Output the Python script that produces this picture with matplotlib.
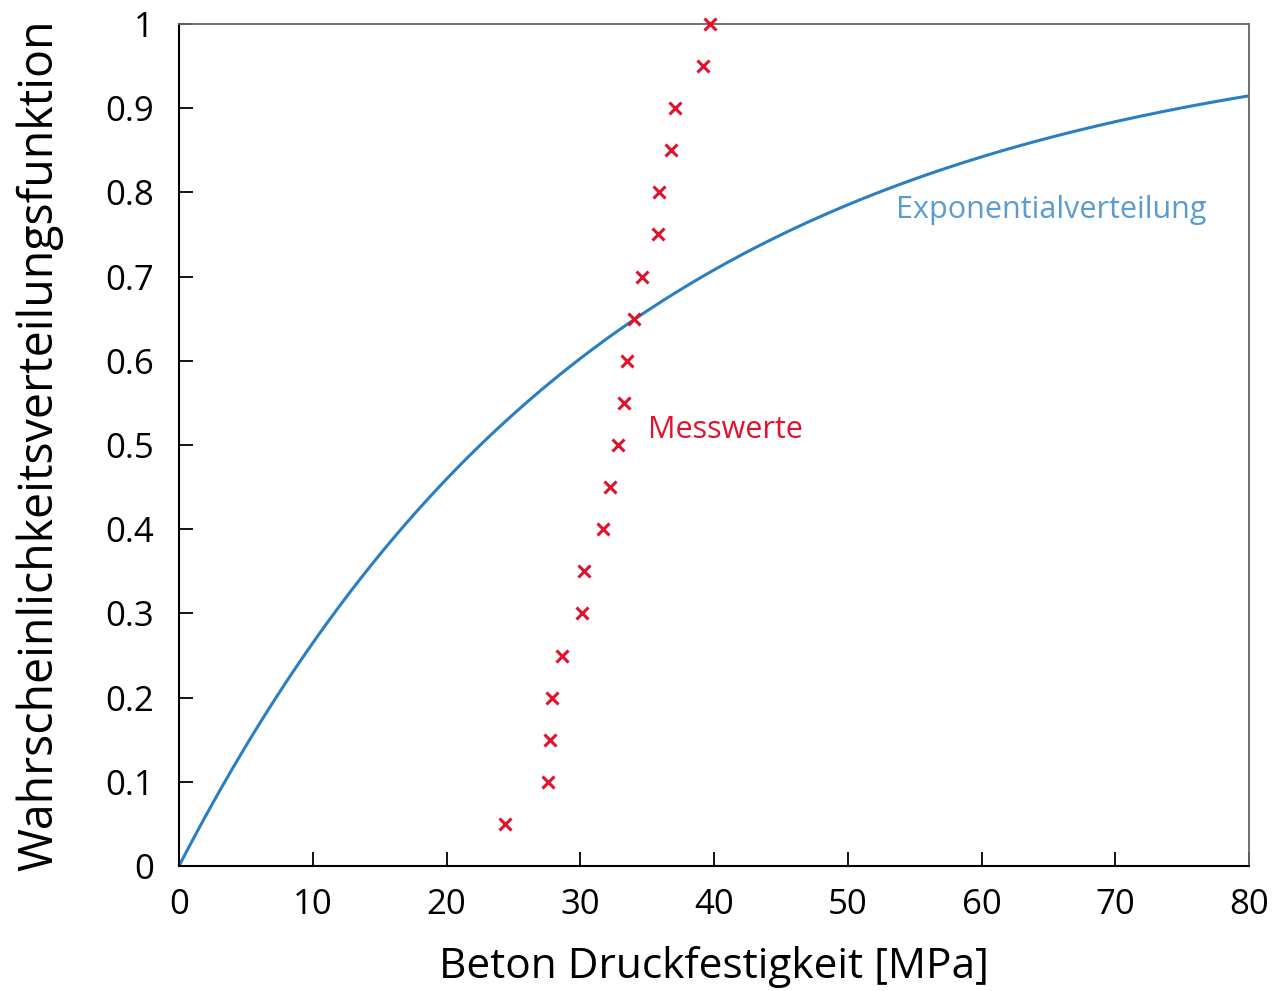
import numpy as np
import matplotlib.pyplot as plt

plt.rcParams['font.family'] = ['Open Sans', 'DejaVu Sans']

# Messwerte (empirische Verteilung)
mess_x = [24.4, 27.6, 27.7, 27.9, 28.6, 30.1, 30.3, 31.7, 32.2, 32.8,
          33.3, 33.5, 34.0, 34.6, 35.8, 35.9, 36.8, 37.1, 39.2, 39.7]
mess_p = [0.05, 0.10, 0.15, 0.20, 0.25, 0.30, 0.35, 0.40, 0.45, 0.50,
          0.55, 0.60, 0.65, 0.70, 0.75, 0.80, 0.85, 0.90, 0.95, 1.00]

# Exponentialverteilung, Mittelwert
mittel = 32.5

xticks = [0, 10, 20, 30, 40, 50, 60, 70, 80]
yticks = [0, 0.1, 0.2, 0.3, 0.4, 0.5, 0.6, 0.7, 0.8, 0.9, 1]
yticklabels = ['0', '0.1', '0.2', '0.3', '0.4', '0.5', '0.6', '0.7', '0.8', '0.9', '1']

fig = plt.figure(figsize=(12.73, 9.91), dpi=100)
ax = fig.add_axes([0.1406, 0.1261, 0.8406, 0.8497])

x = np.linspace(0, 80, 400)
ax.plot(x, 1 - np.exp(-x / mittel), color='#2b7fc1', lw=2.2)
ax.plot(mess_x, mess_p, 'x', color='#e3102e', ms=8, mew=2.2, ls='none',
        clip_on=False, zorder=3)

ax.text(65.2, 0.779, 'Exponentialverteilung', color='#5a9bd3', fontsize=22,
        ha='center', va='center')
ax.text(35.1, 0.518, 'Messwerte', color='#e3102e', fontsize=22,
        ha='left', va='center')

ax.set_xlim(0, 80)
ax.set_ylim(0, 1)
ax.set_xticks(xticks)
ax.set_yticks(yticks)
ax.set_yticklabels(yticklabels)
ax.tick_params(direction='in', length=10, width=1.3, labelsize=25,
               top=False, right=False)
ax.tick_params(axis='y', pad=18)
ax.tick_params(axis='x', pad=16)
for s in ['left', 'bottom']:
    ax.spines[s].set_linewidth(1.5)
for s in ['top', 'right']:
    ax.spines[s].set_color('#666666')
    ax.spines[s].set_linewidth(1.3)

ax.set_xlabel('Beton Druckfestigkeit [MPa]', fontsize=30.5, labelpad=17)
ax.set_ylabel('Wahrscheinlichkeitsverteilungsfunktion', fontsize=33.5, labelpad=30)

fig.savefig('out.png', dpi=100)
